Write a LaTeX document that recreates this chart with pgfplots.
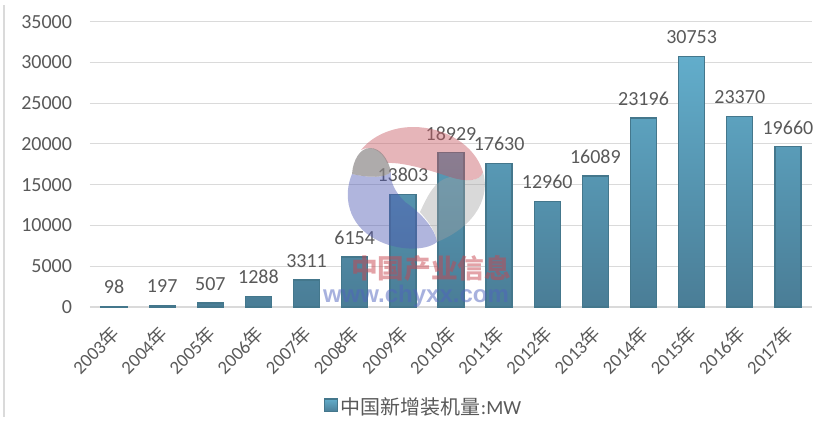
\documentclass[border=0pt]{standalone}
\usepackage{pgfplots}
\pgfplotsset{compat=1.18}
\usepackage{fontspec}
\setmainfont{Carlito}
\newfontfamily\cjk{Noto Sans CJK SC}
\newfontfamily\wwwfont{Liberation Sans}
\definecolor{txt}{HTML}{595959}
\definecolor{gridc}{HTML}{DADADA}
\definecolor{bartop}{HTML}{62ADCB}
\definecolor{barbot}{HTML}{4A7D96}
\definecolor{baredge}{HTML}{44778C}
\begin{document}
\begin{tikzpicture}
% page frame, same size as the reference (1 px = 0.75 pt)
\begin{scope}[x=0.75pt,y=-0.75pt]
\path (0,0) rectangle (826,417);
\draw[gridc,line width=1.2pt] (4,5) -- (4,417);
\end{scope}
\begin{axis}[
  at={(67.5pt,-230.25pt)}, anchor=south west,
  scale only axis,
  width=541.5pt, height=214pt,
  xmin=-0.5, xmax=14.5,
  ymin=0, ymax=35000,
  ytick={0,5000,...,35000},
  scaled y ticks=false,
  xtick=data,
  xticklabels={2003{\cjk 年},2004{\cjk 年},2005{\cjk 年},2006{\cjk 年},2007{\cjk 年},2008{\cjk 年},2009{\cjk 年},2010{\cjk 年},2011{\cjk 年},2012{\cjk 年},2013{\cjk 年},2014{\cjk 年},2015{\cjk 年},2016{\cjk 年},2017{\cjk 年}},
  xticklabel style={rotate=45,anchor=north east,font=\fontsize{14}{14}\selectfont,text=txt,xshift=-5pt,yshift=0pt},
  yticklabel style={font=\fontsize{15}{15}\selectfont,text=txt,/pgf/number format/fixed,/pgf/number format/1000 sep={},/pgf/number format/assume math mode=true,xshift=-10pt},
  tick style={draw=none},
  axis x line*=bottom,
  axis y line*=left,
  y axis line style={draw=none},
  ymajorgrids,
  grid style={gridc,line width=0.8pt},
  x axis line style={gridc,line width=0.8pt,-},
  clip=false,
  ybar,
  bar width=19.5pt,
  nodes near coords,
  nodes near coords style={font=\fontsize{15}{15}\selectfont,text=txt,/pgf/number format/fixed,/pgf/number format/1000 sep={},/pgf/number format/assume math mode=true,yshift=5.5pt},
  legend image code/.code={\draw[#1] (0cm,-0.13cm) rectangle (0.34cm,0.21cm);},
  legend style={at={(0.4626,-0.35)},anchor=center,draw=none,fill=none,font=\fontsize{15}{15}\selectfont,text=txt,legend cell align=left},
]
\addplot[draw=baredge,line width=1pt,top color=bartop,bottom color=barbot] coordinates {
  (0,98) (1,197) (2,507) (3,1288) (4,3311) (5,6154) (6,13803) (7,18929)
  (8,17630) (9,12960) (10,16089) (11,23196) (12,30753) (13,23370) (14,19660)};
\addlegendentry{{\cjk 中国新增装机量}:MW}
\end{axis}
% watermark
\begin{scope}[x=0.75pt,y=-0.75pt]
  \fill[fill={rgb,255:red,200;green,90;blue,100},opacity=0.45]
    (361,150) .. controls (372,136) and (392,127) .. (413,127)
    .. controls (445,127) and (475,145) .. (483,172)
    .. controls (480,182) and (465,182) .. (450,177)
    .. controls (435,172) and (405,162) .. (387,163)
    .. controls (382,150) and (370,145) .. (361,150) -- cycle;
  \fill[fill={rgb,255:red,80;green,90;blue,180},opacity=0.45]
    (352,174) .. controls (343,195) and (347,225) .. (377,240)
    .. controls (395,250) and (425,252) .. (437,242)
    .. controls (435,228) and (420,212) .. (405,202)
    .. controls (395,192) and (390,182) .. (391,172)
    .. controls (385,178) and (370,178) .. (352,174) -- cycle;
  \fill[fill={rgb,255:red,140;green,135;blue,135},opacity=0.7]
    (352,174) .. controls (353,160) and (360,148) .. (370,148)
    .. controls (380,148) and (388,158) .. (391,172)
    .. controls (385,178) and (370,178) .. (352,174) -- cycle;
  \fill[fill={rgb,255:red,160;green,160;blue,160},opacity=0.4]
    (483,172) .. controls (490,195) and (478,225) .. (437,242)
    .. controls (435,228) and (425,218) .. (420,212)
    .. controls (428,195) and (435,180) .. (450,177)
    .. controls (465,182) and (480,182) .. (483,172) -- cycle;
  \node[text={rgb,255:red,200;green,70;blue,80},opacity=0.5,font=\cjk\bfseries\fontsize{20}{20}\selectfont] at (431,268) {中国产业信息};
  \node[text={rgb,255:red,80;green,100;blue,190},opacity=0.5,font=\wwwfont\bfseries\fontsize{18}{18}\selectfont] at (416,296) {www.chyxx.com};
\end{scope}
\end{tikzpicture}
\end{document}
